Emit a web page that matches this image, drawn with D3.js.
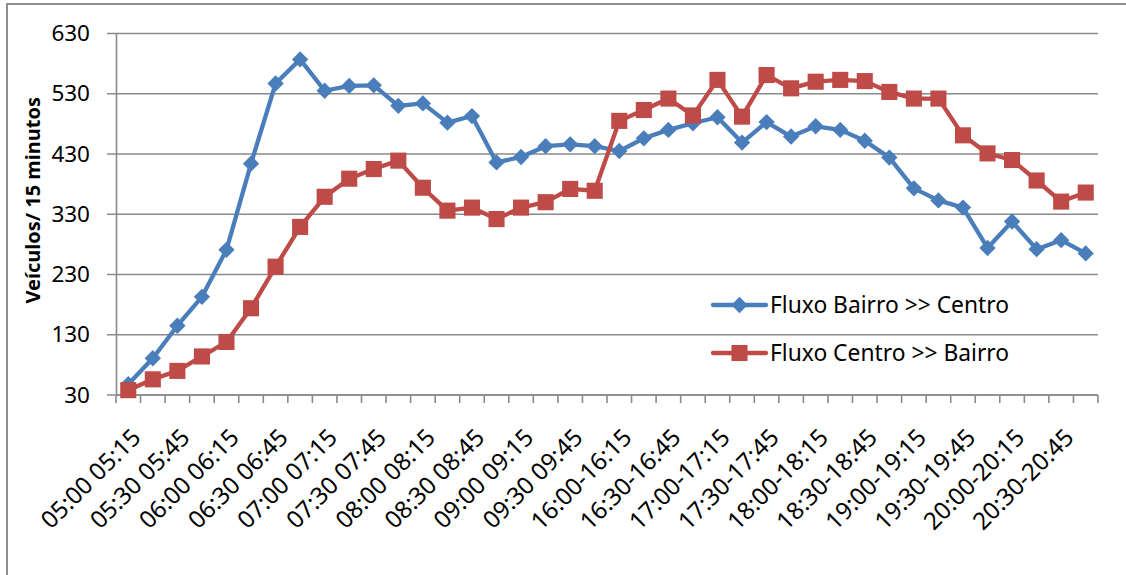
<!DOCTYPE html>
<html>
<head>
<meta charset="utf-8">
<script src="https://cdn.jsdelivr.net/npm/d3@7"></script>
<style>
  html, body { margin: 0; padding: 0; background: #ffffff; }
  svg { display: block; font-family: "Noto Sans", "Open Sans", sans-serif; }
</style>
</head>
<body>
<svg id="chart" width="1126" height="575"></svg>
<script>
// 15-minute counting intervals (morning and evening peaks)
const categories = [
  "05:00 05:15", "05:15 05:30", "05:30 05:45", "05:45 06:00",
  "06:00 06:15", "06:15 06:30", "06:30 06:45", "06:45 07:00",
  "07:00 07:15", "07:15 07:30", "07:30 07:45", "07:45 08:00",
  "08:00 08:15", "08:15 08:30", "08:30 08:45", "08:45 09:00",
  "09:00 09:15", "09:15 09:30", "09:30 09:45", "09:45 10:00",
  "16:00-16:15", "16:15-16:30", "16:30-16:45", "16:45-17:00",
  "17:00-17:15", "17:15-17:30", "17:30-17:45", "17:45-18:00",
  "18:00-18:15", "18:15-18:30", "18:30-18:45", "18:45-19:00",
  "19:00-19:15", "19:15-19:30", "19:30-19:45", "19:45-20:00",
  "20:00-20:15", "20:15-20:30", "20:30-20:45", "20:45-21:00"
];

// Vehicles per 15 minutes, neighbourhood -> centre
const bairroCentro = [
  48, 91, 145, 193, 271, 414, 547, 587, 535, 543,
  544, 510, 514, 482, 493, 416, 425, 443, 446, 443,
  435, 456, 470, 481, 491, 449, 483, 459, 476, 470,
  452, 424, 373, 353, 341, 274, 318, 272, 287, 265
];

// Vehicles per 15 minutes, centre -> neighbourhood
const centroBairro = [
  38, 56, 70, 94, 118, 174, 243, 309, 359, 389,
  405, 419, 374, 336, 341, 322, 341, 350, 372, 369,
  485, 503, 522, 494, 553, 492, 561, 539, 550, 553,
  551, 533, 522, 522, 461, 431, 420, 386, 351, 366
];

const yTicks = [30, 130, 230, 330, 430, 530, 630];
const seriesNames = ["Fluxo Bairro >> Centro", "Fluxo Centro >> Bairro"];
const seriesColors = ["#4A7EBB", "#BE4B48"];
const axisTitle = "Veículos/ 15 minutos";

const svg = d3.select("#chart");
const plot = { left: 116, right: 1098, top: 33.5, bottom: 395 };

// Outer chart frame
svg.append("path")
  .attr("d", `M7,600 L7,4 L1130,4`)
  .attr("fill", "none")
  .attr("stroke", "#8e8e8e")
  .attr("stroke-width", 2);

const x = d3.scaleBand()
  .domain(categories)
  .range([plot.left, plot.right])
  .paddingInner(0).paddingOuter(0);

const y = d3.scaleLinear()
  .domain([30, 630])
  .range([plot.bottom, plot.top]);

// Horizontal gridlines
svg.append("g")
  .selectAll("line")
  .data(yTicks)
  .join("line")
  .attr("x1", plot.left - 9)
  .attr("x2", plot.right)
  .attr("y1", d => y(d))
  .attr("y2", d => y(d))
  .attr("stroke", "#8a8a8a")
  .attr("stroke-width", 1.6);

// Y axis
const yAxis = svg.append("g")
  .attr("transform", `translate(${plot.left},0)`)
  .call(d3.axisLeft(y).tickValues(yTicks).tickSize(0).tickPadding(26));
yAxis.select(".domain").attr("stroke", "#8a8a8a").attr("stroke-width", 1.6);
yAxis.selectAll("text")
  .attr("font-size", 22.5)
  .attr("fill", "#000")
  .style("font-family", "'Noto Sans', sans-serif");

// X axis: ticks at category boundaries, every second label shown
const xAxisG = svg.append("g")
  .attr("transform", `translate(0,${plot.bottom})`);
xAxisG.append("line")
  .attr("x1", plot.left).attr("x2", plot.right)
  .attr("y1", 0).attr("y2", 0)
  .attr("stroke", "#8a8a8a").attr("stroke-width", 1.6);
const boundaries = categories.map(c => x(c)).concat([x(categories[categories.length - 1]) + x.bandwidth()]);
xAxisG.selectAll("line.tick")
  .data(boundaries)
  .join("line")
  .attr("class", "tick")
  .attr("x1", d => d).attr("x2", d => d)
  .attr("y1", 0).attr("y2", 8)
  .attr("stroke", "#8a8a8a").attr("stroke-width", 1.6);

xAxisG.selectAll("text")
  .data(categories.filter((c, i) => i % 2 === 0))
  .join("text")
  .attr("text-anchor", "end")
  .attr("font-size", 24)
  .attr("fill", "#000")
  .attr("transform", d => `translate(${x(d) + x.bandwidth() / 2 + 8},${38}) rotate(-45)`)
  .attr("dy", "0.35em")
  .text(d => d);

// Y axis title
svg.append("text")
  .attr("transform", `translate(40,${(plot.top + plot.bottom) / 2 - 14}) rotate(-90)`)
  .attr("text-anchor", "middle")
  .attr("font-size", 20)
  .attr("font-weight", "bold")
  .attr("fill", "#000")
  .text(axisTitle);

// Series lines and markers
const cx = c => x(c) + x.bandwidth() / 2;
const line = d3.line()
  .x((d, i) => cx(categories[i]))
  .y(d => y(d));

const diamond = d3.symbol().type(d3.symbolDiamond2).size(170);
const square = d3.symbol().type(d3.symbolSquare2).size(330);

function drawSeries(values, color, symbolPath) {
  const g = svg.append("g");
  g.append("path")
    .datum(values)
    .attr("d", line)
    .attr("fill", "none")
    .attr("stroke", color)
    .attr("stroke-width", 4.3)
    .attr("stroke-linejoin", "round")
    .attr("stroke-linecap", "round");
  g.selectAll("path.mark")
    .data(values)
    .join("path")
    .attr("class", "mark")
    .attr("d", symbolPath)
    .attr("transform", (d, i) => `translate(${cx(categories[i])},${y(d)})`)
    .attr("fill", color);
}

drawSeries(bairroCentro, seriesColors[0], diamond);
drawSeries(centroBairro, seriesColors[1], square);

// Legend
const legend = svg.append("g");
const legendRows = [
  { name: seriesNames[0], color: seriesColors[0], sym: diamond, y: 305 },
  { name: seriesNames[1], color: seriesColors[1], sym: square, y: 353 }
];
legendRows.forEach(r => {
  legend.append("line")
    .attr("x1", 713).attr("x2", 766)
    .attr("y1", r.y).attr("y2", r.y)
    .attr("stroke", r.color).attr("stroke-width", 4.3)
    .attr("stroke-linecap", "round");
  legend.append("path")
    .attr("d", r.sym)
    .attr("transform", `translate(739.5,${r.y})`)
    .attr("fill", r.color);
  legend.append("text")
    .attr("x", 770)
    .attr("y", r.y)
    .attr("dy", "0.36em")
    .attr("font-size", 22.8)
    .attr("fill", "#000")
    .text(r.name);
});
</script>
</body>
</html>
